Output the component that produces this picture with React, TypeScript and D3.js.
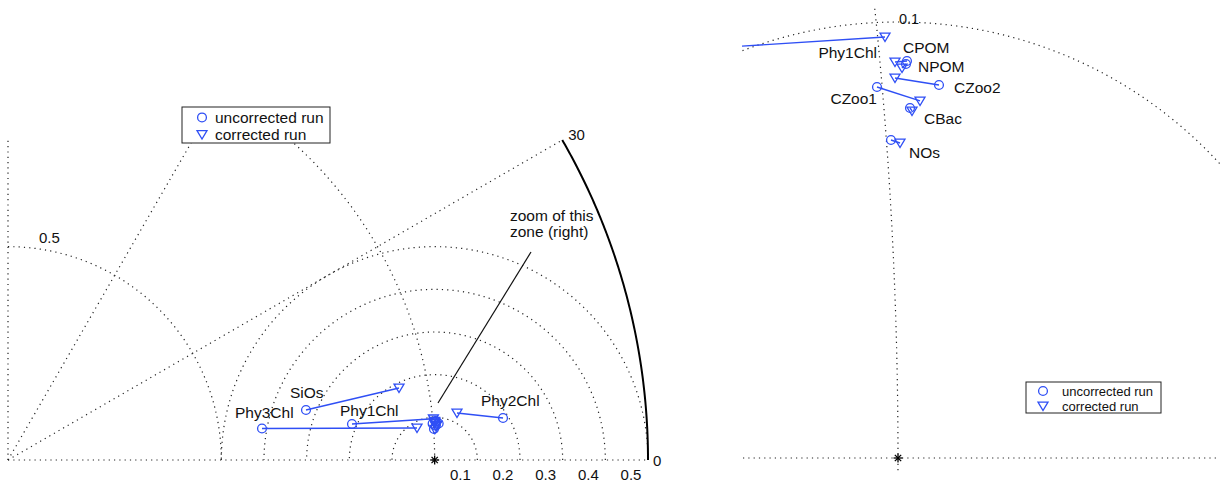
import * as d3 from "d3";

// Taylor diagram: points given as projected coordinates (normalised std * cos / sin of angle)
const variables = ["Phy3Chl", "SiOs", "Phy1Chl", "Phy2Chl", "CPOM", "NPOM", "CZoo2", "CZoo1", "CBac", "NOs"];
const uncorrX = [0.5953, 0.6984, 0.8062, 1.1602, 1.00206, 1.00183, 1.0094, 0.99518, 1.00275, 0.99839];
const uncorrY = [0.0738, 0.1172, 0.0844, 0.0984, 0.09106, 0.09037, 0.08555, 0.08509, 0.08028, 0.07294];
const corrX = [0.9586, 0.9164, 0.99702, 1.0523, 0.99931, 1.00092, 0.99931, 1.00505, 1.00321, 1.00046];
const corrY = [0.075, 0.1688, 0.09656, 0.1102, 0.09083, 0.08945, 0.08716, 0.0819, 0.07959, 0.07225];

const stdArcs = [0.5, 1.0];
const outerStd = 1.5;
const rmsArcs = [0.1, 0.2, 0.3, 0.4, 0.5];
const radialAngles = [30, 60];
const angleTicks = ["0", "30"];
const legendLabels = ["uncorrected run", "corrected run"];

// label placement (pixel offsets from the uncorrected / corrected marker)
const leftLabels = [
  { name: "Phy3Chl", dx: -27, dy: -11, anchor: "start", at: "u" },
  { name: "SiOs", dx: -16, dy: -12, anchor: "start", at: "u" },
  { name: "Phy1Chl", dx: -12, dy: -8, anchor: "start", at: "u" },
  { name: "Phy2Chl", dx: -22, dy: -12, anchor: "start", at: "u" },
];
const rightLabels = [
  { name: "Phy1Chl", dx: -8, dy: 21, anchor: "end", at: "c" },
  { name: "CPOM", dx: -4, dy: -8, anchor: "start", at: "u" },
  { name: "NPOM", dx: 12, dy: 8, anchor: "start", at: "u" },
  { name: "CZoo2", dx: 15, dy: 8, anchor: "start", at: "u" },
  { name: "CZoo1", dx: 0, dy: 17, anchor: "end", at: "u" },
  { name: "CBac", dx: 14, dy: 16, anchor: "start", at: "u" },
  { name: "NOs", dx: 18, dy: 18, anchor: "start", at: "u" },
];

const BLUE = "#2f4ff5";
const FONT = "Liberation Sans, Arial, Helvetica, sans-serif";
const dots = { stroke: "#222", strokeWidth: 1.2, strokeDasharray: "1.2 4.1", fill: "none" };

const arcPts = (cx, cy, r, a0, a1) =>
  d3.range(a0, a1 + 0.25, 0.25).map((a) => {
    const t = (a * Math.PI) / 180;
    return [cx + r * Math.cos(t), cy + r * Math.sin(t)];
  });

const tri = "M-5,-3.8L5,-3.8L0,4.6Z";

function Markers({ x, y }) {
  return (
    <g>
      {variables.map((v, i) => (
        <g key={v}>
          <line x1={x(uncorrX[i])} y1={y(uncorrY[i])} x2={x(corrX[i])} y2={y(corrY[i])} stroke={BLUE} strokeWidth={1.4} />
          <circle cx={x(uncorrX[i])} cy={y(uncorrY[i])} r={4.4} fill="none" stroke={BLUE} strokeWidth={1.3} />
          <path d={tri} transform={`translate(${x(corrX[i])},${y(corrY[i])})`} fill="none" stroke={BLUE} strokeWidth={1.3} />
        </g>
      ))}
    </g>
  );
}

function Star({ cx, cy }) {
  const s = 4.5;
  return (
    <g stroke="#000" strokeWidth={1.3}>
      <line x1={cx - s} y1={cy} x2={cx + s} y2={cy} />
      <line x1={cx} y1={cy - s} x2={cx} y2={cy + s} />
      <line x1={cx - s * 0.7} y1={cy - s * 0.7} x2={cx + s * 0.7} y2={cy + s * 0.7} />
      <line x1={cx - s * 0.7} y1={cy + s * 0.7} x2={cx + s * 0.7} y2={cy - s * 0.7} />
    </g>
  );
}

function Legend({ x, y, w, h, size, gap, symX, textX }) {
  return (
    <g>
      <rect x={x} y={y} width={w} height={h} fill="#fff" stroke="#222" strokeWidth={1} />
      <circle cx={symX} cy={y + h * 0.29} r={4.4} fill="none" stroke={BLUE} strokeWidth={1.3} />
      <path d={tri} transform={`translate(${symX},${y + h * 0.29 + gap})`} fill="none" stroke={BLUE} strokeWidth={1.3} />
      {legendLabels.map((t, i) => (
        <text key={t} x={textX} y={y + h * 0.29 + size * 0.36 + i * gap} fontSize={size} fill="#111">
          {t}
        </text>
      ))}
    </g>
  );
}

function LeftPanel() {
  const x = d3.scaleLinear().domain([0, 1.5]).range([8, 648]);
  const y = d3.scaleLinear().domain([0, 0.75]).range([460, 140]);
  const line = d3.line().x((d) => x(d[0])).y((d) => y(d[1]));
  const pt = (i, at) => (at === "u" ? [x(uncorrX[i]), y(uncorrY[i])] : [x(corrX[i]), y(corrY[i])]);
  return (
    <g>
      <defs>
        <clipPath id="clipL">
          <rect x={6} y={139} width={650} height={323} />
        </clipPath>
      </defs>
      <g clipPath="url(#clipL)">
        <path d={line([[0, 0], [outerStd, 0]])} {...dots} />
        <path d={line([[0, 0], [0, 0.75]])} {...dots} />
        {radialAngles.map((a) => (
          <path key={a} d={line([[0, 0], [outerStd * Math.cos((a * Math.PI) / 180), outerStd * Math.sin((a * Math.PI) / 180)]])} {...dots} />
        ))}
        {stdArcs.map((r) => (
          <path key={r} d={line(arcPts(0, 0, r, 0, 90))} {...dots} />
        ))}
        {rmsArcs.map((r) => (
          <path key={r} d={line(arcPts(1, 0, r, 0, 180))} {...dots} />
        ))}
        <path d={line(arcPts(0, 0, outerStd, 0, 30))} fill="none" stroke="#000" strokeWidth={2} />
        <Markers x={x} y={y} />
      </g>
      <Star cx={x(1)} cy={y(0)} />
      {rmsArcs.map((r) => (
        <text key={r} x={x(1 + r) - 17} y={480} fontSize={15} textAnchor="middle" fill="#111">
          {r}
        </text>
      ))}
      <text x={x(0) + 31} y={243} fontSize={15} fill="#111">0.5</text>
      <text x={x(outerStd) + 5} y={y(0) + 6} fontSize={15} fill="#111">{angleTicks[0]}</text>
      <text x={x(outerStd * Math.cos(Math.PI / 6)) + 6} y={y(outerStd * Math.sin(Math.PI / 6))} fontSize={15} fill="#111">
        {angleTicks[1]}
      </text>
      {leftLabels.map((l) => {
        const i = variables.indexOf(l.name);
        const [px, py] = pt(i, l.at);
        return (
          <text key={l.name} x={px + l.dx} y={py + l.dy} fontSize={15.5} textAnchor={l.anchor} fill="#111">
            {l.name}
          </text>
        );
      })}
      <line x1={x(1.0078)} y1={y(0.1336)} x2={x(1.2258)} y2={y(0.4875)} stroke="#111" strokeWidth={1.2} />
      <text x={510} y={221} fontSize={15.5} fill="#111">zoom of this</text>
      <text x={510} y={237} fontSize={15.5} fill="#111">zone (right)</text>
      <Legend x={182} y={107} w={148} h={36} size={15.5} gap={17} symX={202} textX={215} />
    </g>
  );
}

function RightPanel() {
  const x = d3.scaleLinear().domain([0.96445, 1.07385]).range([743, 1220]);
  const y = d3.scaleLinear().domain([-0.00321, 0.10321]).range([472, 8]);
  const line = d3.line().x((d) => x(d[0])).y((d) => y(d[1]));
  const pt = (i, at) => (at === "u" ? [x(uncorrX[i]), y(uncorrY[i])] : [x(corrX[i]), y(corrY[i])]);
  return (
    <g>
      <defs>
        <clipPath id="clipR">
          <rect x={742} y={7} width={480} height={467} />
        </clipPath>
      </defs>
      <g clipPath="url(#clipR)">
        <path d={line([[0.96445, 0], [1.07385, 0]])} {...dots} />
        <path d={line(arcPts(0, 0, 1, -0.3, 10))} {...dots} />
        <path d={line(arcPts(1, 0, rmsArcs[0], 0, 180))} {...dots} />
        <Markers x={x} y={y} />
      </g>
      <Star cx={x(1)} cy={y(0)} />
      <text x={x(1) + 1} y={24} fontSize={14.5} fill="#111">{rmsArcs[0]}</text>
      {rightLabels.map((l) => {
        const i = variables.indexOf(l.name);
        const [px, py] = pt(i, l.at);
        return (
          <text key={l.name} x={px + l.dx} y={py + l.dy} fontSize={15.5} textAnchor={l.anchor} fill="#111">
            {l.name}
          </text>
        );
      })}
      <Legend x={1026} y={382} w={135} h={31} size={13} gap={15} symX={1043} textX={1062} />
    </g>
  );
}

export default function App() {
  return (
    <svg
      width={1225}
      height={484}
      style={{ position: "absolute", left: 0, top: 0, background: "#fff", fontFamily: FONT }}
    >
      <rect width={1225} height={484} fill="#fff" />
      <LeftPanel />
      <RightPanel />
    </svg>
  );
}
